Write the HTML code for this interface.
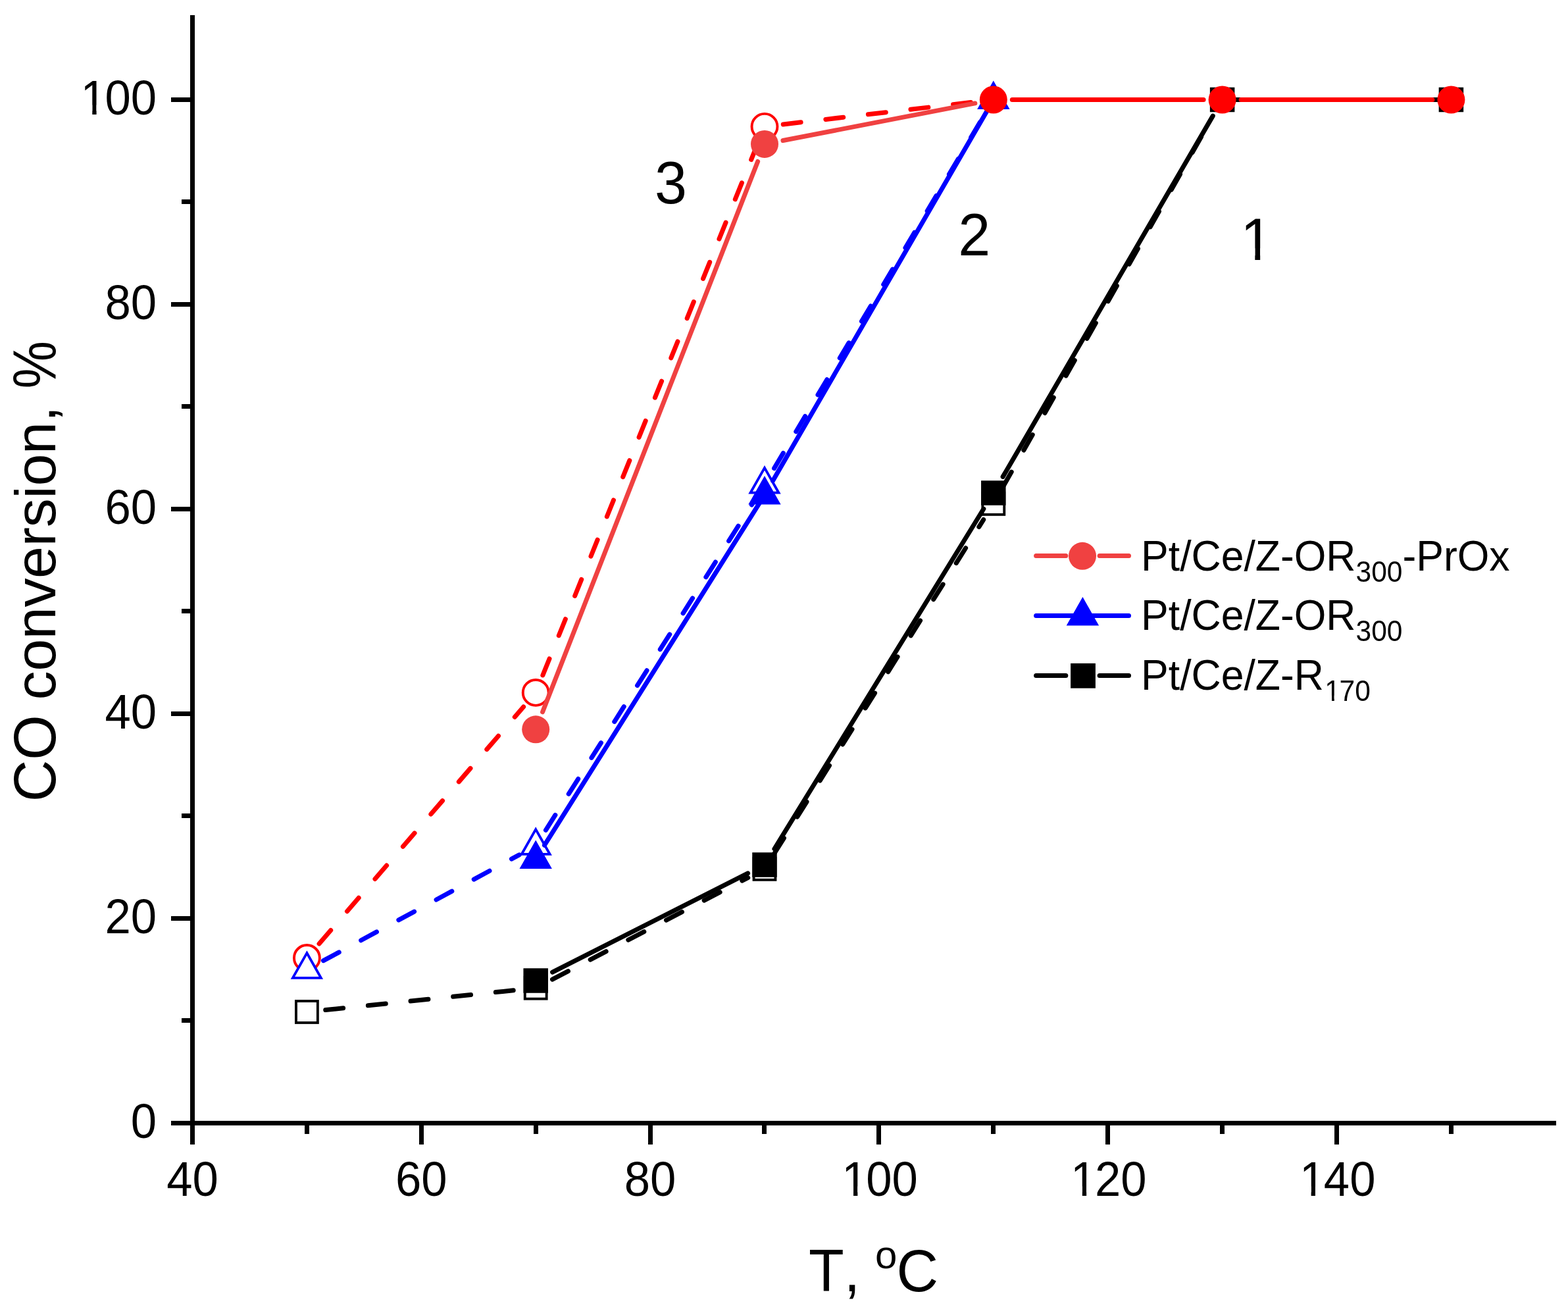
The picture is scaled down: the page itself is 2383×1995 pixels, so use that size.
<!DOCTYPE html>
<html><head><meta charset="utf-8"><title>CO conversion vs T</title>
<style>
html,body{margin:0;padding:0;background:#fff;}
body{width:2383px;height:1995px;overflow:hidden;}
svg{display:block;}
text{font-family:"Liberation Sans",Arial,Helvetica,sans-serif;font-kerning:none;}
</style></head>
<body>
<svg width="2383" height="1995" viewBox="0 0 2383 1995">
<rect width="2383" height="1995" fill="#fff"/>
<line x1="494.75" y1="1534.54" x2="785.85" y2="1504.16" stroke="#000000" stroke-width="7" stroke-linecap="round" stroke-dasharray="27 38"/>
<line x1="839.49" y1="1488.05" x2="1136.71" y2="1333.55" stroke="#000000" stroke-width="7" stroke-linecap="round" stroke-dasharray="27 38"/>
<line x1="1177.13" y1="1296.25" x2="1494.67" y2="789.55" stroke="#000000" stroke-width="7" stroke-linecap="round" stroke-dasharray="27 38"/>
<line x1="1523.85" y1="740.6" x2="1843.55" y2="176.3" stroke="#000000" stroke-width="7" stroke-linecap="round" stroke-dasharray="27 38"/>
<rect x="449.95" y="1521.05" width="32.9" height="32.9" fill="#fff" stroke="#000000" stroke-width="3.9"/>
<rect x="797.75" y="1484.75" width="32.9" height="32.9" fill="#fff" stroke="#000000" stroke-width="3.9"/>
<rect x="1145.55" y="1303.95" width="32.9" height="32.9" fill="#fff" stroke="#000000" stroke-width="3.9"/>
<rect x="1493.35" y="748.95" width="32.9" height="32.9" fill="#fff" stroke="#000000" stroke-width="3.9"/>
<line x1="485.02" y1="1433.92" x2="795.58" y2="1073.98" stroke="#ff0000" stroke-width="7" stroke-linecap="round" stroke-dasharray="27 38"/>
<line x1="824.88" y1="1025.98" x2="1151.32" y2="218.72" stroke="#ff0000" stroke-width="7" stroke-linecap="round" stroke-dasharray="27 38"/>
<line x1="1190.31" y1="188.98" x2="1481.49" y2="154.82" stroke="#ff0000" stroke-width="7" stroke-linecap="round" stroke-dasharray="27 38"/>
<circle cx="466.4" cy="1455.5" r="19.45" fill="#fff" stroke="#ff0000" stroke-width="3.9"/>
<circle cx="814.2" cy="1052.4" r="19.45" fill="#fff" stroke="#ff0000" stroke-width="3.9"/>
<circle cx="1162" cy="192.3" r="19.45" fill="#fff" stroke="#ff0000" stroke-width="3.9"/>
<line x1="491.48" y1="1459.66" x2="789.12" y2="1298.89" stroke="#0000ff" stroke-width="7" stroke-linecap="round" stroke-dasharray="27 38"/>
<line x1="829.45" y1="1261.27" x2="1146.75" y2="760.18" stroke="#0000ff" stroke-width="7" stroke-linecap="round" stroke-dasharray="27 38"/>
<line x1="1176.57" y1="711.61" x2="1495.23" y2="175.99" stroke="#0000ff" stroke-width="7" stroke-linecap="round" stroke-dasharray="27 38"/>
<polygon points="466.4,1448 487.86,1485.8 444.94,1485.8" fill="#fff" stroke="#0000ff" stroke-width="3.8" stroke-linejoin="miter"/>
<polygon points="814.2,1260.15 835.66,1297.95 792.74,1297.95" fill="#fff" stroke="#0000ff" stroke-width="3.8" stroke-linejoin="miter"/>
<polygon points="1162,710.9 1183.46,748.7 1140.54,748.7" fill="#fff" stroke="#0000ff" stroke-width="3.8" stroke-linejoin="miter"/>
<line x1="839.63" y1="1477.13" x2="1136.57" y2="1326.87" stroke="#000000" stroke-width="7" stroke-linecap="round"/>
<line x1="1176.94" y1="1289.73" x2="1494.86" y2="773.27" stroke="#000000" stroke-width="7" stroke-linecap="round"/>
<line x1="1524.14" y1="724.37" x2="1843.26" y2="176.13" stroke="#000000" stroke-width="7" stroke-linecap="round"/>
<line x1="1877.6" y1="151.5" x2="2185.4" y2="151.5" stroke="#000000" stroke-width="7" stroke-linecap="round"/>
<rect x="795.45" y="1471.25" width="37.5" height="37.5" fill="#000000"/>
<rect x="1143.25" y="1295.25" width="37.5" height="37.5" fill="#000000"/>
<rect x="1491.05" y="730.25" width="37.5" height="37.5" fill="#000000"/>
<rect x="1838.85" y="132.75" width="37.5" height="37.5" fill="#000000"/>
<rect x="2186.65" y="132.75" width="37.5" height="37.5" fill="#000000"/>
<line x1="827.5" y1="1284.23" x2="1154.55" y2="763.95" stroke="#0000ff" stroke-width="7" stroke-linecap="round"/>
<line x1="1174.53" y1="730.47" x2="1499.78" y2="168.91" stroke="#0000ff" stroke-width="7" stroke-linecap="round"/>
<polygon points="814.2,1276.4 838.9,1319.9 789.5,1319.9" fill="#0000ff"/>
<polygon points="1162,723.1 1186.7,766.6 1137.3,766.6" fill="#0000ff"/>
<polygon points="1509.8,122.6 1534.5,166.1 1485.1,166.1" fill="#0000ff"/>
<line x1="824.58" y1="1081.76" x2="1151.62" y2="245.44" stroke="#f04141" stroke-width="7" stroke-linecap="round"/>
<line x1="1189.98" y1="213.48" x2="1481.82" y2="156.92" stroke="#f04141" stroke-width="7" stroke-linecap="round"/>
<circle cx="814.2" cy="1108.3" r="21" fill="#f04141"/>
<circle cx="1162" cy="218.9" r="21" fill="#f04141"/>
<line x1="1538.3" y1="151.5" x2="1829.1" y2="151.5" stroke="#ff0000" stroke-width="7" stroke-linecap="round"/>
<line x1="1886.1" y1="151.5" x2="2176.9" y2="151.5" stroke="#ff0000" stroke-width="7" stroke-linecap="round"/>
<circle cx="1509.8" cy="151.5" r="21" fill="#ff0000"/>
<circle cx="1857.6" cy="151.5" r="21" fill="#ff0000"/>
<circle cx="2205.4" cy="151.5" r="21" fill="#ff0000"/>
<g fill="#000">
<rect x="289" y="23" width="7" height="1716"/>
<rect x="260" y="1703" width="2105" height="7"/>
<rect x="260" y="1392" width="29" height="7"/>
<rect x="260" y="1081" width="29" height="7"/>
<rect x="260" y="770" width="29" height="7"/>
<rect x="260" y="459" width="29" height="7"/>
<rect x="260" y="148" width="29" height="7"/>
<rect x="276" y="1547" width="13" height="7"/>
<rect x="276" y="1236" width="13" height="7"/>
<rect x="276" y="925" width="13" height="7"/>
<rect x="276" y="614" width="13" height="7"/>
<rect x="276" y="303" width="13" height="7"/>
<rect x="637" y="1710" width="7" height="29"/>
<rect x="985" y="1710" width="7" height="29"/>
<rect x="1332" y="1710" width="7" height="29"/>
<rect x="1680" y="1710" width="7" height="29"/>
<rect x="2028" y="1710" width="7" height="29"/>
<rect x="463" y="1710" width="7" height="13"/>
<rect x="811" y="1710" width="7" height="13"/>
<rect x="1158" y="1710" width="7" height="13"/>
<rect x="1506" y="1710" width="7" height="13"/>
<rect x="1854" y="1710" width="7" height="13"/>
<rect x="2202" y="1710" width="7" height="13"/>
</g>
<defs><clipPath id="one" clipPathUnits="userSpaceOnUse"><rect x="-20" y="-200" width="140" height="180.47"/><rect x="25.1" y="-200" width="8.94" height="260"/></clipPath></defs>
<g font-family="Liberation Sans, Arial, Helvetica, sans-serif" fill="#000">
<text transform="translate(198.8,1728.9) scale(1,1.04)" font-size="70.66">0</text>
<text transform="translate(159.5,1417.9) scale(1,1.04)" font-size="70.66">20</text>
<text transform="translate(159.5,1106.9) scale(1,1.04)" font-size="70.66">40</text>
<text transform="translate(159.5,795.9) scale(1,1.04)" font-size="70.66">60</text>
<text transform="translate(159.5,484.9) scale(1,1.04)" font-size="70.66">80</text>
<text transform="translate(122.55,173.9) scale(0.70660,0.73486)" font-size="100" clip-path="url(#one)">1</text>
<text transform="translate(159.5,173.9) scale(1,1.04)" font-size="70.66">00</text>
<text transform="translate(253.2,1816.9) scale(1,1.04)" font-size="70.66">40</text>
<text transform="translate(601,1816.9) scale(1,1.04)" font-size="70.66">60</text>
<text transform="translate(948.8,1816.9) scale(1,1.04)" font-size="70.66">80</text>
<text transform="translate(1279.3,1816.9) scale(0.70660,0.73486)" font-size="100" clip-path="url(#one)">1</text>
<text transform="translate(1316.25,1816.9) scale(1,1.04)" font-size="70.66">00</text>
<text transform="translate(1627.1,1816.9) scale(0.70660,0.73486)" font-size="100" clip-path="url(#one)">1</text>
<text transform="translate(1664.05,1816.9) scale(1,1.04)" font-size="70.66">20</text>
<text transform="translate(1974.9,1816.9) scale(0.70660,0.73486)" font-size="100" clip-path="url(#one)">1</text>
<text transform="translate(2011.85,1816.9) scale(1,1.04)" font-size="70.66">40</text>
<text transform="translate(1229.1,1961.8) scale(1,1.04)" font-size="88">T,</text>
<text transform="translate(1329.9,1927.2) scale(1,1)" font-size="60">o</text>
<text transform="translate(1362.4,1961.8) scale(1,1.04)" font-size="88">C</text>
<text transform="translate(83.8,1218.3) rotate(-90) scale(1,1.04)" font-size="88">CO</text>
<text transform="translate(83.8,1063.42) rotate(-90)" font-size="88" textLength="446.59" lengthAdjust="spacing">conversion,</text>
<text transform="translate(84,590.5) rotate(-90) scale(0.925,1.058)" font-size="88">%</text>
<text transform="translate(995.1,308.8) scale(1,1.04)" font-size="88">3</text>
<text transform="translate(1456.3,387.8) scale(1,1.04)" font-size="88">2</text>
<text transform="translate(1885.22,395) scale(0.88000,0.91520)" font-size="100" clip-path="url(#one)">1</text>
<line x1="1574.6" y1="844.5" x2="1619.8" y2="844.5" stroke="#f04141" stroke-width="7" stroke-linecap="round"/>
<line x1="1671.1" y1="844.5" x2="1715.5" y2="844.5" stroke="#f04141" stroke-width="7" stroke-linecap="round"/>
<circle cx="1645" cy="844.8" r="21" fill="#f04141"/>
<line x1="1574.6" y1="935.4" x2="1715.5" y2="935.4" stroke="#0000ff" stroke-width="7" stroke-linecap="round"/>
<polygon points="1645.4,907.1 1670.1,950.6 1620.7,950.6" fill="#0000ff"/>
<line x1="1574.6" y1="1026.4" x2="1619.8" y2="1026.4" stroke="#000000" stroke-width="7" stroke-linecap="round"/>
<line x1="1671.1" y1="1026.4" x2="1715.5" y2="1026.4" stroke="#000000" stroke-width="7" stroke-linecap="round"/>
<rect x="1627.1" y="1007.9" width="37.8" height="37.8" fill="#000"/>
<text transform="translate(1734.1,866.8) scale(1,1.04)" font-size="62.5">Pt/Ce/Z-OR</text>
<text transform="translate(2060.52,884.3) scale(1,1.04)" font-size="42.5">300</text>
<text transform="translate(2131.43,866.8) scale(1,1.04)" font-size="62.5">-PrOx</text>
<text transform="translate(1734.1,956.9) scale(1,1.04)" font-size="62.5">Pt/Ce/Z-OR</text>
<text transform="translate(2060.52,974.4) scale(1,1.04)" font-size="42.5">300</text>
<text transform="translate(1734.1,1047.8) scale(1,1.04)" font-size="62.5">Pt/Ce/Z-R</text>
<text transform="translate(2013.31,1065.3) scale(0.42500,0.44200)" font-size="100" clip-path="url(#one)">1</text>
<text transform="translate(2035.54,1065.3) scale(1,1.04)" font-size="42.5">70</text>
</g>
</svg>
</body></html>
